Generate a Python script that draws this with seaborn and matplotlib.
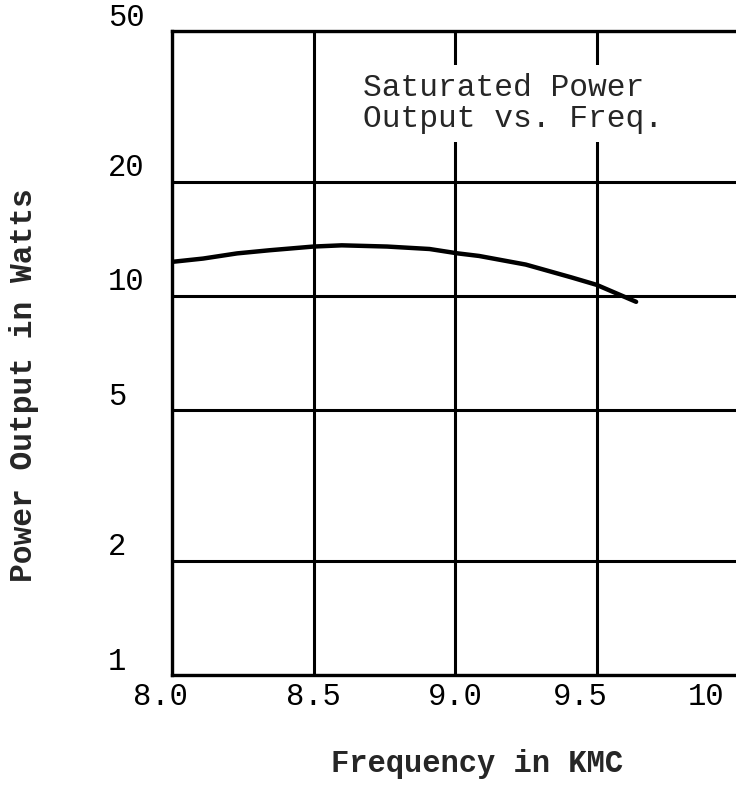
import matplotlib
matplotlib.use("Agg")
import matplotlib.pyplot as plt
import matplotlib.transforms as mtransforms
import seaborn as sns
import pandas as pd

# === Datos ===
freq_kmc = [8.0, 8.11, 8.23, 8.345, 8.5, 8.6, 8.76, 8.91, 9.01, 9.085, 9.25, 9.41, 9.5, 9.64]
power_w = [12.3, 12.55, 12.95, 13.2, 13.5, 13.6, 13.5, 13.3, 12.95, 12.75, 12.1, 11.2, 10.7, 9.65]

y_ticks = [1, 2, 5, 10, 20, 50]
y_labels = ["1", "2", "5", "10", "20", "50"]
x_ticks = [8.0, 8.5, 9.0, 9.5, 10.0]
x_labels = ["8.0", "8.5", "9.0", "9.5", "10"]

df = pd.DataFrame({"Frecuencia": freq_kmc, "Potencia": power_w})

# === Estilo ===
sns.set_style("white")
plt.rcParams["font.family"] = ["Liberation Mono", "DejaVu Sans"]

fig = plt.figure(figsize=(7.36, 7.85), dpi=100)
ax = fig.add_axes([172 / 736, 110 / 785, 566 / 736, 644 / 785])

sns.lineplot(data=df, x="Frecuencia", y="Potencia", color="black", linewidth=3.2, ax=ax)

ax.set_yscale("log")
ax.set_xlim(8.0, 10.0)
ax.set_ylim(1, 50)

ax.set_yticks(y_ticks)
ax.set_yticklabels(y_labels)
ax.yaxis.set_minor_locator(matplotlib.ticker.NullLocator())
ax.set_xticks(x_ticks)
ax.set_xticklabels(x_labels)

ax.tick_params(axis="both", length=0, labelsize=22, colors="black")
ax.tick_params(axis="y", pad=46)
ax.tick_params(axis="x", pad=5)

# etiquetas del eje y: alineadas a la izquierda y un poco elevadas
for lab in ax.get_yticklabels():
    lab.set_horizontalalignment("left")
    lab.set_transform(lab.get_transform() + mtransforms.ScaledTranslation(0, 0.17, fig.dpi_scale_trans))

# pequenos desplazamientos de las etiquetas del eje x como en el original
x_shift = [-0.12, 0.0, 0.0, -0.16, -0.32]
for lab, dx in zip(ax.get_xticklabels(), x_shift):
    lab.set_transform(lab.get_transform() + mtransforms.ScaledTranslation(dx, 0, fig.dpi_scale_trans))

ax.grid(True, which="major", color="black", linewidth=2.2)
for side in ["left", "bottom", "top"]:
    ax.spines[side].set_color("black")
    ax.spines[side].set_linewidth(2.4)
ax.spines["right"].set_visible(False)

ax.set_xlabel("Frequency in KMC", fontsize=22, fontweight="bold")
ax.xaxis.set_label_coords(0.539, -0.115)
ax.set_ylabel("Power Output in Watts", fontsize=22.5, fontweight="bold")
ax.yaxis.set_label_coords(-0.235, 0.45)

ax.text(0.3375, 0.935, "Saturated Power\nOutput vs. Freq.", transform=ax.transAxes,
        fontsize=22.5, ha="left", va="top", linespacing=1.05, zorder=5,
        bbox=dict(boxstyle="square,pad=0.25", facecolor="white", edgecolor="none"))

fig.savefig("out.png", dpi=100)
